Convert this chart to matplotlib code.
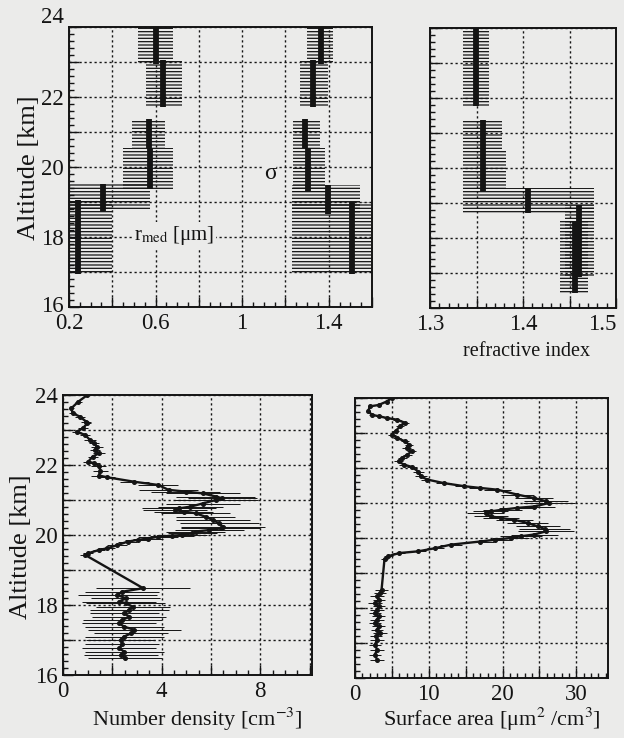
import matplotlib
matplotlib.use("Agg")
import matplotlib.pyplot as plt
from matplotlib.ticker import MultipleLocator
from matplotlib.transforms import ScaledTranslation

plt.rcParams["font.family"] = ["Liberation Serif", "DejaVu Serif"]
plt.rcParams["mathtext.fontset"] = "stix"
plt.rcParams["hatch.linewidth"] = 0.9

# ── Colores y estilo ──────────────────────────────────────────────────────────
PAPEL = "#ebebea"
NEGRO = "#141414"
GRID_LS = (0, (1.6, 2.0))

# ── Datos: capas (altitud inferior, superior, valor, rango) ───────────────────
rmed_bot = [16.95, 18.75, 19.38, 20.55, 21.72, 22.95]
rmed_top = [19.05, 19.52, 20.55, 21.38, 23.05, 24.05]
rmed_val = [0.240, 0.356, 0.574, 0.570, 0.636, 0.602]
rmed_lo = [0.180, 0.180, 0.450, 0.490, 0.554, 0.520]
rmed_hi = [0.400, 0.575, 0.682, 0.644, 0.721, 0.682]

sig_bot = [16.95, 18.65, 19.29, 20.55, 21.71, 22.95]
sig_top = [19.00, 19.48, 20.55, 21.38, 23.05, 24.05]
sig_val = [1.506, 1.398, 1.306, 1.291, 1.329, 1.363]
sig_lo = [1.229, 1.229, 1.234, 1.234, 1.267, 1.298]
sig_hi = [1.650, 1.545, 1.383, 1.360, 1.398, 1.421]

ri_bot = [16.43, 16.90, 18.71, 19.33, 20.50, 21.76]
ri_top = [18.48, 18.93, 19.43, 20.50, 21.38, 24.05]
ri_val = [1.456, 1.4606, 1.405, 1.357, 1.357, 1.3495]
ri_lo = [1.440, 1.445, 1.335, 1.335, 1.335, 1.336]
ri_hi = [1.470, 1.476, 1.476, 1.382, 1.377, 1.363]

# ── Datos: perfiles ───────────────────────────────────────────────────────────
nd_alt = [24.00, 23.81, 23.62, 23.48, 23.38, 23.24, 23.19, 23.05, 22.95, 22.86,
          22.71, 22.62, 22.52, 22.43, 22.33, 22.24, 22.10, 22.05, 21.98, 21.84,
          21.70, 21.65,
          21.52, 21.43, 21.29, 21.24, 21.19, 21.10, 21.05, 21.00, 20.90, 20.81,
          20.76, 20.71, 20.67, 20.62, 20.52, 20.43, 20.33, 20.24, 20.19, 20.14,
          20.10, 20.05, 20.00, 19.98, 19.95, 19.90, 19.86, 19.81, 19.71, 19.62,
          19.57, 19.48, 19.43,
          18.48, 18.38, 18.29, 18.19, 18.10, 18.05, 17.95, 17.86, 17.76, 17.67,
          17.57, 17.48, 17.38, 17.29, 17.19, 17.10, 17.00, 16.90, 16.76, 16.67,
          16.57, 16.50]
nd_val = [0.99, 0.62, 0.34, 0.39, 0.69, 0.94, 0.99, 0.80, 0.55, 0.90,
          1.10, 1.25, 1.38, 1.30, 1.45, 1.20, 1.03, 1.25, 1.45, 1.52,
          1.45, 1.79,
          2.90, 3.86, 4.28, 4.97, 5.66, 6.20, 6.45, 6.20, 5.66, 5.17,
          4.69, 4.55, 4.90, 5.38, 5.79, 6.07, 6.34, 6.48, 6.40, 5.93,
          5.38, 5.24, 4.83, 4.41, 3.86, 3.45, 3.03, 2.62, 2.20, 1.79,
          1.45, 1.03, 0.90,
          3.25, 2.41, 2.20, 2.55, 2.28, 2.55, 2.83, 2.69, 2.48, 2.69,
          2.41, 2.28, 2.48, 2.90, 2.76, 2.48, 2.34, 2.41, 2.28, 2.48,
          2.34, 2.50]
nd_err = [0.10, 0.15, 0.10, 0.15, 0.20, 0.20, 0.15, 0.20, 0.20, 0.20,
          0.25, 0.20, 0.25, 0.20, 0.25, 0.20, 0.20, 0.25, 0.30, 0.30,
          0.30, 0.30,
          0.60, 0.80, 1.20, 1.40, 1.50, 1.60, 1.40, 1.70, 1.50, 1.30,
          1.50, 1.30, 1.20, 1.40, 1.20, 1.50, 1.60, 1.70, 1.60, 1.40,
          1.20, 1.00, 1.00, 0.90, 0.80, 0.60, 0.50, 0.40, 0.40, 0.30,
          0.25, 0.20, 0.20,
          1.90, 1.50, 1.60, 1.40, 1.50, 1.60, 1.50, 1.60, 1.40, 1.50,
          1.60, 1.50, 1.60, 1.90, 1.50, 1.60, 1.40, 1.50, 1.50, 1.60,
          1.50, 1.50]

sa_alt = [24.00, 23.90, 23.80, 23.76, 23.62, 23.52, 23.48, 23.43, 23.38, 23.29,
          23.19, 23.05, 22.95, 22.86, 22.76, 22.67, 22.57, 22.48, 22.38, 22.29,
          22.19, 22.10, 22.03, 21.90, 21.76, 21.67,
          21.57, 21.48, 21.43, 21.38, 21.24, 21.14, 21.05, 21.00, 20.90, 20.86,
          20.81, 20.76, 20.71, 20.62, 20.57, 20.52, 20.43, 20.33, 20.26, 20.19,
          20.10, 20.05, 20.00, 19.95, 19.90, 19.81, 19.71, 19.62, 19.57, 19.48,
          19.40,
          18.52, 18.43, 18.33, 18.24, 18.14, 18.05, 17.95, 17.86, 17.76, 17.67,
          17.57, 17.48, 17.38, 17.29, 17.19, 17.10, 16.95, 16.81, 16.67, 16.52]
sa_val = [5.0, 4.3, 3.2, 2.0, 1.8, 2.3, 3.2, 4.3, 5.7, 6.8,
          6.1, 5.5, 5.0, 5.7, 6.8, 7.3, 7.0, 7.7, 7.1, 6.4,
          5.9, 6.6, 7.7, 8.6, 8.9, 9.8,
          12.0, 14.8, 17.0, 19.3, 22.0, 24.3, 25.9, 26.3, 24.3, 22.0,
          20.0, 18.4, 17.7, 18.4, 19.8, 21.6, 23.4, 24.8, 25.7, 25.9,
          24.3, 22.5, 21.1, 19.0, 17.0, 13.0, 10.9, 8.6, 6.0, 4.5,
          4.0,
          3.6, 3.4, 3.0, 3.2, 2.7, 3.2, 3.0, 2.7, 3.2, 3.0,
          2.7, 3.2, 3.0, 3.4, 2.9, 3.0, 2.7, 3.0, 2.7, 3.0]
sa_err = [0.3, 0.3, 0.3, 0.3, 0.3, 0.4, 0.4, 0.4, 0.5, 0.5,
          0.5, 0.5, 0.5, 0.5, 0.5, 0.5, 0.6, 0.6, 0.6, 0.6,
          0.6, 0.6, 0.7, 0.8, 0.8, 0.8,
          1.0, 1.2, 1.5, 1.8, 2.2, 2.6, 3.0, 3.5, 2.8, 2.5,
          2.6, 2.4, 2.5, 2.3, 2.4, 2.5, 2.8, 3.0, 3.5, 3.8,
          3.2, 2.8, 2.5, 2.2, 1.8, 1.5, 1.2, 1.0, 0.8, 0.6,
          0.5,
          0.9, 0.8, 0.9, 0.8, 0.9, 0.8, 0.9, 0.8, 0.9, 0.9,
          0.8, 0.9, 0.8, 1.0, 0.8, 0.9, 0.8, 0.9, 0.8, 0.9]

# ── Ejes y etiquetas ──────────────────────────────────────────────────────────
ALT_TICKS = [16, 17, 18, 19, 20, 21, 22, 23, 24]
ALT_LABELS = ["16", "", "18", "", "20", "", "22", "", "24"]

tl_ticks = [0.2, 0.4, 0.6, 0.8, 1.0, 1.2, 1.4, 1.6]
tl_labels = ["0.2", "", "0.6", "", "1", "", "1.4", ""]
tr_ticks = [1.3, 1.35, 1.4, 1.45, 1.5]
tr_labels = ["1.3", "", "1.4", "", "1.5"]
bl_ticks = [0, 2, 4, 6, 8, 10]
bl_labels = ["0", "", "4", "", "8", ""]
br_ticks = [0, 5, 10, 15, 20, 25, 30]
br_labels = ["0", "", "10", "", "20", "", "30"]


def ejes(ax, xlim, ticks, labels, xminor, ylabels=True):
    ax.set_facecolor(PAPEL)
    ax.set_xlim(*xlim)
    ax.set_ylim(16, 24)
    ax.set_xticks(ticks, labels)
    ax.xaxis.set_minor_locator(MultipleLocator(xminor))
    ax.set_yticks(ALT_TICKS, ALT_LABELS)
    ax.yaxis.set_minor_locator(MultipleLocator(0.2))
    ax.tick_params(which="both", direction="in", top=False, right=False,
                   labelsize=16.5, width=1.0, color=NEGRO, labelcolor=NEGRO)
    ax.tick_params(which="major", length=7, pad=4)
    ax.tick_params(which="minor", length=3.5)
    if not ylabels:
        ax.tick_params(labelleft=False)
    ax.grid(True, which="major", color=NEGRO, ls=GRID_LS, lw=1.0)
    ax.set_axisbelow(True)
    for s in ax.spines.values():
        s.set_linewidth(1.4)
        s.set_color(NEGRO)


def capas(ax, bot, top, val, lo, hi):
    alto = [t - b for b, t in zip(bot, top)]
    ancho = [h - l for l, h in zip(lo, hi)]
    ax.barh(bot, ancho, height=alto, left=lo, align="edge", fill=False,
            hatch="-----", edgecolor=NEGRO, linewidth=0)
    ax.vlines(val, bot, top, colors=NEGRO, lw=4.2)


def perfil(ax, val, alt, err):
    ax.errorbar(val, alt, xerr=err, fmt="-o", color=NEGRO, lw=1.7, ms=2.6,
                elinewidth=0.7, capsize=0)


W, H = 624, 738
fig = plt.figure(figsize=(W / 100, H / 100), dpi=100, facecolor=PAPEL)

ax_tl = fig.add_axes([69 / W, 1 - 307 / H, 303 / W, 280 / H])
ax_tr = fig.add_axes([430 / W, 1 - 308 / H, 186 / W, 280 / H])
ax_bl = fig.add_axes([63 / W, 1 - 675 / H, 249 / W, 280 / H])
ax_br = fig.add_axes([355 / W, 1 - 678 / H, 253 / W, 280 / H])

# r_med y sigma
ejes(ax_tl, (0.2, 1.6), tl_ticks, tl_labels, 0.05)
capas(ax_tl, rmed_bot, rmed_top, rmed_val, rmed_lo, rmed_hi)
capas(ax_tl, sig_bot, sig_top, sig_val, sig_lo, sig_hi)
caja = dict(facecolor=PAPEL, edgecolor="none", pad=1.0)
ax_tl.text(1.129, 19.82, "σ", ha="center", va="center", fontsize=17,
           color=NEGRO, bbox=caja)
ax_tl.text(0.685, 18.05, r"r$_{\mathrm{med}}$ [μm]", ha="center",
           va="center", fontsize=15, color=NEGRO, bbox=caja)

# "24" y "16" un poco desplazados como en el original
for lab in ax_tl.get_yticklabels():
    if lab.get_text() == "24":
        lab.set_transform(lab.get_transform()
                          + ScaledTranslation(0, 0.12, fig.dpi_scale_trans))
    elif lab.get_text() == "16":
        lab.set_transform(lab.get_transform()
                          + ScaledTranslation(0, 0.03, fig.dpi_scale_trans))

# índice de refracción
ejes(ax_tr, (1.3, 1.5), tr_ticks, tr_labels, 0.01, ylabels=False)
capas(ax_tr, ri_bot, ri_top, ri_val, ri_lo, ri_hi)
for lab in ax_tr.get_xticklabels():
    if lab.get_text() == "1.5":
        lab.set_horizontalalignment("right")

# densidad numérica y superficie
ejes(ax_bl, (0, 10.1), bl_ticks, bl_labels, 0.5)
perfil(ax_bl, nd_val, nd_alt, nd_err)
ejes(ax_br, (0, 34.3), br_ticks, br_labels, 1, ylabels=False)
perfil(ax_br, sa_val, sa_alt, sa_err)

fig.text(29 / W, 1 - 168 / H, "Altitude [km]", rotation=90, ha="center",
         va="center", fontsize=19, color=NEGRO)
fig.text(21 / W, 1 - 547 / H, "Altitude [km]", rotation=90, ha="center",
         va="center", fontsize=19, color=NEGRO)
fig.text(527 / W, 1 - 352 / H, "refractive index", ha="center", va="center",
         fontsize=14.5, color=NEGRO)
fig.text(197 / W, 1 - 719 / H, "Number density [cm$^{-3}$]", ha="center",
         va="center", fontsize=16, color=NEGRO)
fig.text(492 / W, 1 - 719 / H, "Surface area [μm$^{2}$ /cm$^{3}$]",
         ha="center", va="center", fontsize=16, color=NEGRO)

fig.savefig("out.png", dpi=100, facecolor=PAPEL)
